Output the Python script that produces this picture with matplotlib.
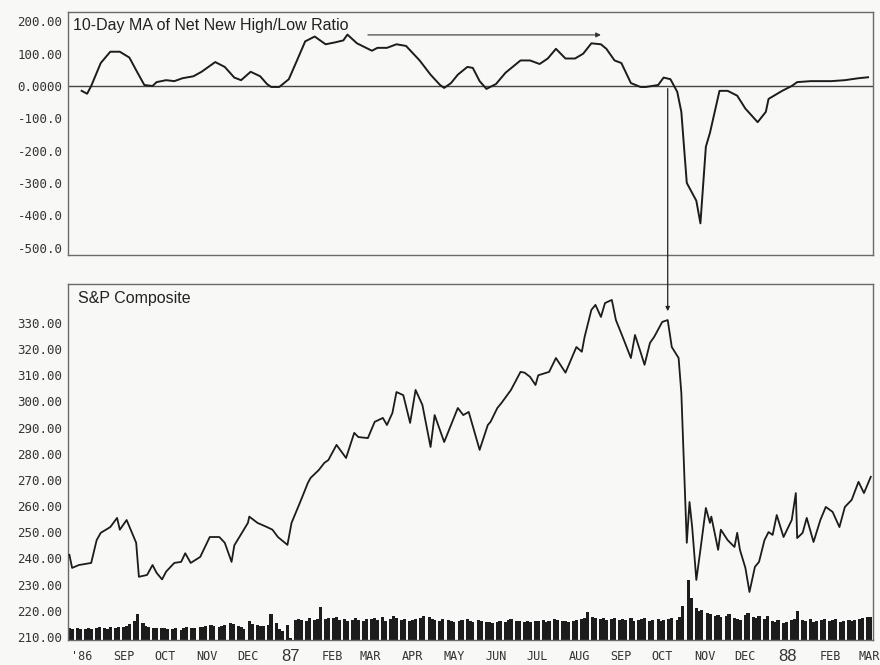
import matplotlib
matplotlib.use("Agg")
import matplotlib.pyplot as plt
import matplotlib.dates as mdates
import pandas as pd
import numpy as np
from matplotlib.patches import ConnectionPatch

# ---------------- data ----------------
ma_dates = ["1986-08-01", "1986-08-05", "1986-08-08", "1986-08-15", "1986-08-22", "1986-08-29",
            "1986-09-05", "1986-09-11", "1986-09-16", "1986-09-22", "1986-09-25", "1986-10-02",
            "1986-10-08", "1986-10-14", "1986-10-22", "1986-10-28", "1986-11-07", "1986-11-14",
            "1986-11-21", "1986-11-26", "1986-12-03", "1986-12-10", "1986-12-15", "1986-12-18",
            "1986-12-24", "1986-12-31", "1987-01-06", "1987-01-12", "1987-01-19", "1987-01-27",
            "1987-02-03", "1987-02-09", "1987-02-12", "1987-02-19", "1987-03-02", "1987-03-06",
            "1987-03-13", "1987-03-20", "1987-03-27", "1987-04-06", "1987-04-14", "1987-04-21",
            "1987-04-24", "1987-04-29", "1987-05-04", "1987-05-11", "1987-05-15", "1987-05-20",
            "1987-05-25", "1987-06-01", "1987-06-08", "1987-06-19", "1987-06-26", "1987-07-03",
            "1987-07-09", "1987-07-15", "1987-07-22", "1987-07-29", "1987-08-04", "1987-08-10",
            "1987-08-17", "1987-08-21", "1987-08-27", "1987-09-01", "1987-09-08", "1987-09-15",
            "1987-09-19", "1987-09-28", "1987-10-02", "1987-10-07", "1987-10-12", "1987-10-15",
            "1987-10-19", "1987-10-26", "1987-10-29", "1987-11-02", "1987-11-05", "1987-11-12",
            "1987-11-18", "1987-11-25", "1987-12-01", "1987-12-10", "1987-12-16", "1987-12-18",
            "1987-12-28", "1988-01-04", "1988-01-08", "1988-01-18", "1988-02-02", "1988-02-12",
            "1988-02-22", "1988-02-29"]
ma_values = [-15, -24, 0, 71, 106, 106,
             88, 41, 3, 0, 12, 18,
             15, 24, 30, 44, 74, 59,
             26, 18, 44, 30, 6, -3,
             -3, 21, 79, 138, 153, 129,
             135, 141, 159, 132, 109, 118,
             118, 129, 124, 79, 35, 3,
             -6, 9, 35, 59, 56, 15,
             -9, 6, 41, 79, 79, 68,
             85, 115, 85, 85, 100, 132,
             129, 115, 79, 71, 9, -3,
             -3, 3, 26, 21, -18, -80,
             -300, -355, -425, -188, -145, -15,
             -15, -30, -70, -112, -80, -40,
             -15, 0, 12, 15, 15, 18,
             24, 27]

sp_dates = ["1986-07-23", "1986-07-25", "1986-07-30", "1986-08-08", "1986-08-12", "1986-08-15",
            "1986-08-22", "1986-08-27", "1986-08-29", "1986-09-03", "1986-09-10", "1986-09-12",
            "1986-09-18", "1986-09-22", "1986-09-25", "1986-09-29", "1986-10-02", "1986-10-08",
            "1986-10-13", "1986-10-16", "1986-10-20", "1986-10-27", "1986-11-03", "1986-11-10",
            "1986-11-14", "1986-11-19", "1986-11-21", "1986-12-01", "1986-12-02", "1986-12-08",
            "1986-12-15", "1986-12-19", "1986-12-23", "1986-12-30",
            "1987-01-02", "1987-01-09", "1987-01-14", "1987-01-16", "1987-01-22", "1987-01-26",
            "1987-01-29", "1987-02-04", "1987-02-11", "1987-02-17", "1987-02-20", "1987-02-27",
            "1987-03-04", "1987-03-10", "1987-03-13", "1987-03-17", "1987-03-20", "1987-03-25",
            "1987-03-30", "1987-04-03", "1987-04-08", "1987-04-14", "1987-04-17", "1987-04-24",
            "1987-04-29", "1987-05-04", "1987-05-08", "1987-05-12", "1987-05-20", "1987-05-26",
            "1987-05-28", "1987-06-02", "1987-06-05", "1987-06-12", "1987-06-19", "1987-06-22",
            "1987-06-26", "1987-06-30", "1987-07-02", "1987-07-10", "1987-07-15", "1987-07-22",
            "1987-07-30", "1987-08-03", "1987-08-05", "1987-08-10", "1987-08-13", "1987-08-17",
            "1987-08-20", "1987-08-25", "1987-08-28", "1987-09-02", "1987-09-08", "1987-09-11",
            "1987-09-15", "1987-09-18", "1987-09-22", "1987-09-25", "1987-10-01", "1987-10-05",
            "1987-10-08", "1987-10-13", "1987-10-15", "1987-10-16", "1987-10-19", "1987-10-21",
            "1987-10-23", "1987-10-26", "1987-10-29", "1987-11-02", "1987-11-05", "1987-11-06",
            "1987-11-11", "1987-11-13", "1987-11-18", "1987-11-23", "1987-11-25", "1987-11-27",
            "1987-12-01", "1987-12-04", "1987-12-08", "1987-12-11", "1987-12-15", "1987-12-18",
            "1987-12-21", "1987-12-24", "1987-12-29", "1988-01-04", "1988-01-07", "1988-01-08",
            "1988-01-12", "1988-01-15", "1988-01-20", "1988-01-25", "1988-01-29", "1988-02-03",
            "1988-02-08", "1988-02-12", "1988-02-17", "1988-02-22", "1988-02-26", "1988-03-02"]
sp_values = [241.4, 236.4, 237.5, 238.3, 247.0, 249.8,
             252.0, 255.5, 251.0, 254.7, 246.0, 233.0,
             233.7, 237.5, 234.5, 232.0, 235.0, 238.3,
             238.7, 242.0, 238.3, 240.6, 248.2, 248.2,
             246.0, 238.7, 245.0, 253.6, 256.0, 253.6,
             252.0, 251.0, 248.2, 245.2,
             253.6, 262.4, 268.9, 270.8, 273.8, 276.5,
             277.6, 283.4, 278.4, 288.0, 286.4, 286.0,
             292.2, 293.7, 291.0, 295.6, 303.6, 302.4,
             291.8, 304.4, 298.7, 282.6, 294.8, 284.5,
             291.0, 297.5, 294.8, 296.0, 281.5, 291.0,
             292.2, 297.5, 299.4, 304.4, 311.3, 311.0,
             309.4, 306.3, 310.0, 311.3, 316.6, 311.0,
             320.8, 319.0, 324.6, 335.0, 336.9, 332.3,
             337.6, 338.8, 331.1, 324.6, 316.6, 325.4,
             319.0, 314.0, 322.4, 324.6, 330.4, 331.1,
             320.8, 316.6, 303.3, 289.0, 246.0, 261.6,
             251.7, 231.8, 243.3, 259.3, 253.6, 256.0,
             243.3, 251.0, 247.0, 244.4, 249.8, 243.3,
             236.4, 227.2, 236.8, 238.7, 247.0, 250.1,
             249.0, 256.6, 248.2, 254.7, 265.0, 247.8,
             249.8, 255.5, 246.3, 254.7, 259.7, 257.8,
             252.0, 259.7, 262.4, 269.3, 265.0, 271.2]

# volume (millions of shares), every other business day from 1986-07-23
vol_values = (
    [120, 115, 125, 110] +
    [115, 120, 110, 125, 130, 120, 115, 135, 125, 130] +
    [130, 140, 160, 190, 260, 170, 140, 130, 120, 125, 120] +
    [120, 110, 115, 120, 105, 125, 130, 120, 125, 130, 135, 140] +
    [150, 140, 135, 145, 150, 170, 160, 140, 130, 110] +
    [190, 160, 150, 145, 140, 150, 260, 170, 110, 90, 150] +
    [20, 200, 210, 200, 190, 220, 200, 210, 330, 210, 220] +
    [220, 230, 200, 210, 190, 200, 220, 200, 190, 210] +
    [210, 220, 200, 230, 190, 210, 240, 220, 200, 210, 190] +
    [200, 210, 220, 240, 230, 210, 200, 190, 210, 200, 190] +
    [180, 190, 200, 210, 190, 185, 200, 195, 180, 185, 175] +
    [180, 190, 185, 200, 210, 195, 190, 185, 195, 180, 190] +
    [190, 200, 185, 195, 210, 200, 190, 195, 185, 190, 200] +
    [210, 220, 280, 230, 220, 210, 225, 200, 210, 220, 205] +
    [210, 200, 220, 190, 200, 210, 220, 190, 200, 210, 195] +
    [200, 210, 220, 200, 230, 340, 600, 420, 320, 290, 300] +
    [270, 260, 240, 250, 230, 240, 260, 220, 210, 200] +
    [250, 270, 230, 220, 240, 210, 240, 190, 180, 200, 170, 180] +
    [200, 210, 290, 200, 190, 210, 180, 190, 200, 210] +
    [190, 200, 210, 180, 195, 205, 190, 200, 210, 220, 230] +
    [230]
)

month_labels = ["'86", "SEP", "OCT", "NOV", "DEC", "87", "FEB", "MAR", "APR", "MAY",
                "JUN", "JUL", "AUG", "SEP", "OCT", "NOV", "DEC", "88", "FEB", "MAR"]
ma_ticks = [200, 100, 0, -100, -200, -300, -400, -500]
ma_tick_labels = ["200.00", "100.00", "0.0000", "-100.0", "-200.0", "-300.0", "-400.0", "-500.0"]
sp_ticks = [330, 320, 310, 300, 290, 280, 270, 260, 250, 240, 230, 220, 210]
sp_tick_labels = ["%.2f" % t for t in sp_ticks]

# ---------------- figure ----------------
BG = "#f8f8f6"
INK = "#1c1c1c"
SPINE = "#6a6a6a"
mono = "DejaVu Sans Mono"
sans = "Liberation Sans"

fig = plt.figure(figsize=(8.8, 6.65), dpi=100, facecolor=BG)
ax1 = fig.add_axes([0.0773, 0.6165, 0.9148, 0.3655], facecolor=BG)
ax2 = fig.add_axes([0.0773, 0.0376, 0.9148, 0.5354], facecolor=BG)

ma_d = pd.to_datetime(ma_dates)
sp_d = pd.to_datetime(sp_dates)
vol_d = pd.bdate_range("1986-07-23", "1988-03-02")[::2]
n = min(len(vol_d), len(vol_values))

xmin = mdates.date2num(pd.Timestamp("1986-07-22"))
xmax = mdates.date2num(pd.Timestamp("1988-03-03 16:00"))

# top panel
ax1.axhline(0, color="#444444", lw=1.0, zorder=1)
ax1.plot(ma_d, ma_values, color=INK, lw=1.4, zorder=3)
ax1.set_xlim(xmin, xmax)
ax1.set_ylim(-523, 229)
ax1.set_yticks(ma_ticks)
ax1.set_yticklabels(ma_tick_labels)
ax1.set_xticks([])
ax1.text(0.006, 0.946, "10-Day MA of Net New High/Low Ratio", transform=ax1.transAxes,
         ha="left", va="center", fontsize=11.5, family=sans, color="#222222")
ax1.annotate("", xy=(pd.Timestamp("1987-08-19"), 158), xytext=(pd.Timestamp("1987-02-25"), 158),
             arrowprops=dict(arrowstyle="-|>", lw=0.8, color="#333333", mutation_scale=7))

# bottom panel
axv = ax2.twinx()
axv.bar(vol_d[:n], vol_values[:n], width=2.4, color=INK, linewidth=0, zorder=2)
axv.set_ylim(0, 3570)
axv.set_yticks([])
for s in axv.spines.values():
    s.set_visible(False)

ax2.set_zorder(axv.get_zorder() + 1)
ax2.patch.set_visible(False)
axv.patch.set_facecolor(BG)
ax2.plot(sp_d, sp_values, color=INK, lw=1.3, zorder=3)
ax2.set_xlim(xmin, xmax)
axv.set_xlim(xmin, xmax)
ax2.set_ylim(208.85, 344.9)
ax2.set_yticks(sp_ticks)
ax2.set_yticklabels(sp_tick_labels)
ax2.text(0.0124, 0.959, "S&P Composite", transform=ax2.transAxes,
         ha="left", va="center", fontsize=11.5, family=sans, color="#222222")

mticks = pd.date_range("1986-08-01", "1988-03-01", freq="MS")
ax2.set_xticks(mdates.date2num(mticks))
ax2.set_xticklabels(month_labels)

for ax in (ax1, ax2):
    for s in ax.spines.values():
        s.set_color(SPINE)
        s.set_linewidth(1.0)
    ax.tick_params(axis="y", length=0, pad=4, labelsize=9, labelcolor="#333333")
    for lab in ax.get_yticklabels():
        lab.set_family(mono)

ax2.tick_params(axis="x", length=0, pad=12, labelsize=8.5, labelcolor="#333333")
for lab in ax2.get_xticklabels():
    lab.set_verticalalignment("center")
    if lab.get_text() in ("87", "88"):
        lab.set_family(sans)
        lab.set_fontsize(12)
    else:
        lab.set_family(mono)

# vertical arrow connecting the panels
arr_d = mdates.date2num(pd.Timestamp("1987-10-05"))
con = ConnectionPatch(xyA=(arr_d, -8), coordsA=ax1.transData,
                      xyB=(arr_d, 334.5), coordsB=ax2.transData,
                      arrowstyle="-|>", mutation_scale=6, lw=0.9, color="#222222", zorder=5)
fig.add_artist(con)

fig.savefig("out.png", dpi=100, facecolor=BG)
